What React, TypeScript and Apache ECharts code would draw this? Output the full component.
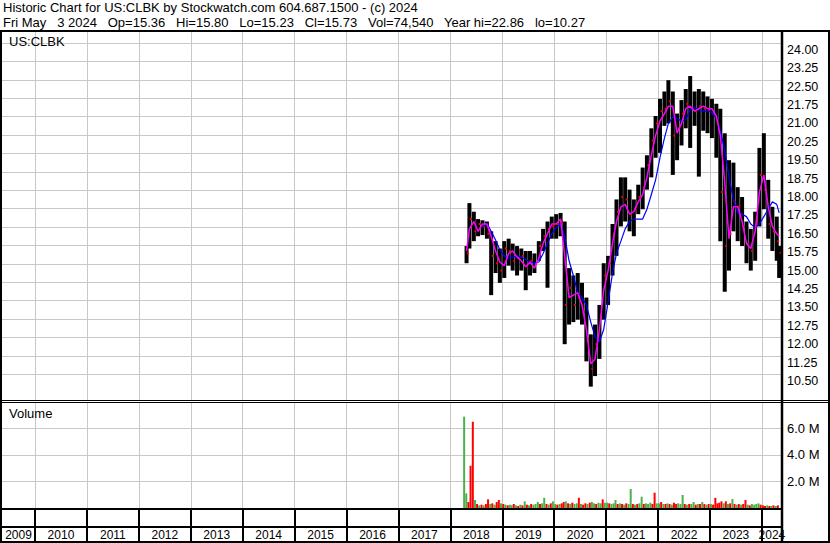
import React, { useEffect, useRef } from 'react';
import * as echarts from 'echarts';

// ---------- texts ----------
const headerLine1 = 'Historic Chart for US:CLBK by Stockwatch.com 604.687.1500 - (c) 2024';
const headerFields = ['Fri May', '3 2024', 'Op=15.36', 'Hi=15.80', 'Lo=15.23', 'Cl=15.73', 'Vol=74,540', 'Year hi=22.86', 'lo=10.27'];
const symbolLabel = 'US:CLBK';
const volumeLabel = 'Volume';

// ---------- axes ----------
const axisStart = '2009-05-14';
const axisEnd = '2024-05-22';
const yearTicks = [2010, 2011, 2012, 2013, 2014, 2015, 2016, 2017, 2018, 2019, 2020, 2021, 2022, 2023, 2024];
const priceTicks = [10.5, 11.25, 12, 12.75, 13.5, 14.25, 15, 15.75, 16.5, 17.25, 18, 18.75, 19.5, 20.25, 21, 21.75, 22.5, 23.25, 24];
const volumeTicks = [2, 4, 6]; // millions

// ---------- monthly price bars ----------
const barDates = [
  '2018-04-25', '2018-05-15', '2018-06-15', '2018-07-15', '2018-08-15', '2018-09-15', '2018-10-15', '2018-11-15', '2018-12-15',
  '2019-01-15', '2019-02-15', '2019-03-15', '2019-04-15', '2019-05-15', '2019-06-15', '2019-07-15', '2019-08-15', '2019-09-15', '2019-10-15', '2019-11-15', '2019-12-15',
  '2020-01-15', '2020-02-15', '2020-03-15', '2020-04-15', '2020-05-15', '2020-06-15', '2020-07-15', '2020-08-15', '2020-09-15', '2020-10-15', '2020-11-15', '2020-12-15',
  '2021-01-15', '2021-02-15', '2021-03-15', '2021-04-15', '2021-05-15', '2021-06-15', '2021-07-15', '2021-08-15', '2021-09-15', '2021-10-15', '2021-11-15', '2021-12-15',
  '2022-01-15', '2022-02-15', '2022-03-15', '2022-04-15', '2022-05-15', '2022-06-15', '2022-07-15', '2022-08-15', '2022-09-15', '2022-10-15', '2022-11-15', '2022-12-15',
  '2023-01-15', '2023-02-15', '2023-03-15', '2023-04-15', '2023-05-15', '2023-06-15', '2023-07-15', '2023-08-15', '2023-09-15', '2023-10-15', '2023-11-15', '2023-12-15',
  '2024-01-15', '2024-02-15', '2024-03-15', '2024-04-15', '2024-05-02',
];
const barHigh = [
  16.0, 17.75, 17.4, 17.1, 17.05, 17.0, 16.6, 16.2, 15.9,
  16.2, 16.3, 16.1, 16.0, 15.9, 15.8, 15.8, 15.7, 16.2, 16.7, 17.0, 17.2,
  17.3, 17.35, 17.0, 15.1, 14.8, 14.9, 14.5, 13.9, 12.4, 12.8, 13.6, 15.3,
  15.6, 16.9, 17.9, 18.8, 18.8, 18.3, 17.9, 18.5, 19.2, 19.7, 20.8, 21.3,
  22.0, 22.3, 22.76, 22.3, 21.4, 21.95, 22.4, 22.93, 22.3, 22.4, 22.3, 22.1,
  22.0, 21.8, 21.6, 20.6, 19.5, 19.4, 18.4, 18.0, 17.0, 16.7, 17.4, 20.0,
  20.6, 18.7, 17.6, 17.2, 16.0,
];
const barLow = [
  15.3, 15.9, 16.2, 16.4, 16.45, 16.3, 14.0, 14.9, 14.5,
  14.7, 15.2, 15.0, 14.8, 15.0, 14.2, 14.8, 14.9, 15.4, 15.8, 14.3, 16.3,
  16.3, 16.4, 12.0, 12.8, 12.9, 13.0, 12.8, 11.3, 10.27, 10.7, 11.4, 13.0,
  13.6, 14.8, 15.6, 16.8, 17.0, 16.6, 16.4, 17.3, 17.5, 18.3, 18.8, 19.6,
  19.8, 20.9, 21.0, 18.9, 19.5, 20.1, 20.8, 20.0, 20.9, 18.83, 20.7, 20.6,
  20.4, 19.6, 16.2, 14.14, 15.0, 16.6, 16.2, 16.0, 15.3, 15.0, 15.4, 16.8,
  17.5, 16.3, 15.8, 15.4, 14.7,
];
const barClose = [
  15.7, 17.1, 16.6, 16.9, 16.8, 16.5, 15.6, 15.3, 15.0,
  15.9, 15.8, 15.4, 15.5, 15.6, 15.2, 15.4, 15.3, 16.0, 16.4, 16.7, 16.8,
  16.9, 17.0, 13.6, 14.3, 13.6, 13.9, 13.3, 12.2, 11.0, 12.0, 13.2, 14.8,
  15.3, 16.5, 17.4, 18.0, 17.9, 17.3, 17.5, 18.0, 18.4, 19.3, 20.3, 21.0,
  21.5, 21.6, 21.9, 20.5, 20.8, 21.4, 21.8, 21.6, 21.5, 21.7, 21.6, 21.5,
  21.4, 21.0, 18.2, 16.0, 16.5, 17.8, 17.6, 16.8, 16.1, 15.8, 16.9, 18.9,
  18.3, 16.9, 16.6, 16.2, 15.73,
];
// magenta short moving average
const maShort = [
  15.8, 16.7, 17.0, 16.6, 16.9, 16.9, 16.4, 15.8, 15.35,
  15.2, 15.7, 15.8, 15.55, 15.4, 15.15, 15.35, 15.1, 15.5, 16.1, 16.5, 16.9,
  16.9, 17.1, 15.6, 13.9, 14.0, 14.1, 13.6, 12.6, 11.2, 11.4, 12.6, 14.2,
  15.0, 16.1, 17.0, 17.6, 17.7, 17.3, 17.4, 17.8, 18.1, 18.8, 19.7, 20.5,
  21.1, 21.4, 21.7, 21.7, 20.6, 21.0, 21.6, 21.7, 21.5, 21.6, 21.7, 21.6,
  21.6, 21.3, 20.5, 18.6, 16.3, 17.6, 17.6, 17.0, 16.1, 15.9, 16.6, 18.2,
  18.9, 17.6, 16.8, 16.5, 16.4,
];
// blue long moving average
const maLong: (number | null)[] = [
  null, null, null, null, 16.8, 16.93, 16.6, 16.25, 15.85,
  15.6, 15.5, 15.55, 15.6, 15.55, 15.45, 15.35, 15.3, 15.35, 15.7, 16.1, 16.5,
  16.75, 16.9, 16.4, 15.4, 14.8, 14.1, 13.9, 13.6, 12.9, 12.3, 12.1, 12.6,
  13.7, 14.9, 15.7, 16.2, 16.7, 17.0, 17.1, 17.1, 17.1, 17.5, 18.1, 18.7,
  19.6, 20.4, 21.0, 21.25, 21.2, 21.1, 21.15, 21.55, 21.65, 21.55, 21.5, 21.5,
  21.45, 21.2, 20.7, 19.9, 18.8, 17.9, 17.35, 17.3, 17.2, 16.9, 16.75, 16.9,
  17.2, 17.5, 17.8, 17.7, 17.35,
];

// ---------- half-monthly volume (millions), first bin = first half of April 2018 ----------
const volFirstYear = 2018;
const volFirstMonth = 4;
const volumes = [
  6.87, 1.1, 0.45, 3.18, 6.49, 0.6, 0.3, 0.2, 0.25, 0.2, 0.3, 0.65, 0.3, 0.35, 0.25, 0.45, 0.6, 0.35,
  0.3, 0.25, 0.2, 0.25, 0.2, 0.3, 0.2, 0.15, 0.25, 0.2, 0.5, 0.25, 0.2, 0.3, 0.25, 0.3, 0.45, 0.3, 0.35, 0.77, 0.3, 0.25, 0.35, 0.5,
  0.3, 0.25, 0.3, 0.35, 0.45, 0.5, 0.35, 0.3, 0.4, 0.3, 0.35, 0.77, 0.3, 0.25, 0.35, 0.3, 0.4, 0.45, 0.35, 0.3, 0.4, 0.35, 0.65, 0.4,
  0.4, 0.35, 0.3, 0.35, 0.6, 0.3, 0.35, 0.3, 0.25, 0.35, 0.3, 1.43, 0.3, 0.25, 0.3, 0.35, 0.85, 0.3, 0.35, 0.3, 0.4, 0.3, 1.15, 0.35,
  0.35, 0.45, 0.3, 0.3, 0.35, 0.3, 0.25, 0.4, 0.3, 0.35, 0.3, 0.98, 0.3, 0.25, 0.3, 0.3, 0.45, 0.25, 0.3, 0.3, 0.45, 0.3, 0.25, 0.3,
  0.3, 0.25, 0.77, 0.35, 0.4, 0.5, 0.35, 0.5, 0.3, 0.35, 0.68, 0.3, 0.25, 0.3, 0.25, 0.3, 0.6, 0.25, 0.2, 0.3, 0.25, 0.3, 0.35, 0.25,
  0.2, 0.15, 0.2, 0.15, 0.15, 0.2, 0.15, 0.2,
];
const volumeUp = [
  1, 1, 0, 0, 0, 1, 0, 1, 0, 1, 0, 0, 1, 0, 1, 0, 0, 1,
  0, 1, 0, 1, 1, 0, 1, 0, 1, 0, 1, 0, 1, 0, 1, 1, 1, 0, 1, 1, 0, 1, 0, 1,
  1, 0, 1, 0, 0, 1, 0, 1, 0, 1, 1, 0, 1, 0, 0, 1, 0, 1, 1, 0, 1, 1, 0, 1,
  1, 0, 1, 1, 1, 0, 1, 0, 1, 0, 1, 1, 0, 1, 0, 1, 1, 0, 1, 1, 1, 0, 0, 1,
  1, 0, 1, 0, 1, 0, 1, 0, 0, 1, 1, 1, 0, 1, 0, 1, 1, 0, 1, 0, 1, 0, 1, 0,
  1, 0, 0, 0, 0, 0, 1, 0, 1, 0, 1, 0, 1, 0, 1, 0, 0, 1, 0, 1, 1, 1, 1, 0,
  0, 0, 1, 0, 1, 0, 1, 0,
];

// ---------- helpers ----------
const FONT = 'Liberation Sans, Arial, sans-serif';
const FIELD_GAP = ' \u00a0 ';

function toYear(d: string): number {
  const [y, m, day] = d.split('-').map(Number);
  const s = Date.UTC(y, 0, 1);
  const e = Date.UTC(y + 1, 0, 1);
  return y + (Date.UTC(y, m - 1, day) - s) / (e - s);
}

function volDate(k: number): string {
  const mi = volFirstMonth - 1 + Math.floor(k / 2);
  const y = volFirstYear + Math.floor(mi / 12);
  const m = (mi % 12) + 1;
  const d = k % 2 === 0 ? 8 : 23;
  return `${y}-${String(m).padStart(2, '0')}-${String(d).padStart(2, '0')}`;
}

function buildOption() {
  const xMin = toYear(axisStart);
  const xMax = toYear(axisEnd);
  const barT = barDates.map(toYear);
  const priceData = barT.map((t, i) => [t, barLow[i], barHigh[i], barClose[i]]);
  const shortData = barT.map((t, i) => [t, maShort[i]]);
  const longData = barT.map((t, i) => [t, maLong[i]]).filter((p) => p[1] != null);
  const volData = volumes.map((v, k) => [toYear(volDate(k)), v, volumeUp[k]]);

  const gridOffset = 0.273; // price gridlines sit slightly above their labels
  const priceGrid = priceTicks.map((v) => v + gridOffset);
  const yearLabelPos = [
    (xMin + yearTicks[0]) / 2,
    ...yearTicks.slice(0, -1).map((y) => y + 0.5),
    (yearTicks[yearTicks.length - 1] + xMax) / 2,
  ];

  const grayX = {
    type: 'value',
    min: xMin,
    max: xMax,
    axisLine: { show: false },
    axisTick: { show: false, customValues: yearTicks },
    axisLabel: { show: false },
    splitLine: { show: true, lineStyle: { color: '#c8c8c8', width: 1 } },
  };

  const black = '#000';
  const line = (x1: number, y1: number, x2: number, y2: number, w: number) => ({
    type: 'line',
    z: 100,
    silent: true,
    shape: { x1, y1, x2, y2 },
    style: { stroke: black, lineWidth: w },
  });
  const text = (x: number, y: number, s: string, size: number) => ({
    type: 'text',
    z: 100,
    x,
    y,
    style: { text: s, fontSize: size, fontFamily: FONT, fill: black, verticalAlign: 'middle', align: 'left' },
  });

  return {
    animation: false,
    backgroundColor: '#ffffff',
    grid: [
      { left: 2, top: 32, width: 780, height: 368, outerBoundsMode: 'none', containLabel: false },
      { left: 2, top: 403, width: 780, height: 105, outerBoundsMode: 'none', containLabel: false },
      { left: 2, top: 510, width: 780, height: 16, outerBoundsMode: 'none', containLabel: false },
    ],
    xAxis: [
      { ...grayX, gridIndex: 0 },
      { ...grayX, gridIndex: 1 },
      {
        gridIndex: 2,
        type: 'value',
        min: xMin,
        max: xMax,
        position: 'bottom',
        axisLine: { show: false },
        axisTick: { show: true, customValues: yearTicks, length: 15, inside: false, lineStyle: { color: black, width: 2 } },
        axisLabel: {
          show: true,
          customValues: yearLabelPos,
          formatter: (v: number) => String(Math.floor(v)),
          fontSize: 12,
          fontFamily: FONT,
          color: black,
          margin: 9,
          verticalAlign: 'middle',
        },
        splitLine: { show: true, lineStyle: { color: black, width: 2 } },
      },
    ],
    yAxis: [
      {
        gridIndex: 0,
        type: 'value',
        position: 'right',
        min: 9.725,
        max: 24.725,
        axisLine: { show: false },
        axisTick: { show: false, customValues: priceGrid },
        splitLine: { show: true, lineStyle: { color: '#c8c8c8', width: 1 } },
        axisLabel: {
          customValues: priceTicks,
          formatter: (v: number) => v.toFixed(2),
          fontSize: 12.5,
          fontFamily: FONT,
          color: black,
          margin: 5,
          align: 'left',
        },
      },
      {
        gridIndex: 1,
        type: 'value',
        position: 'right',
        min: 0,
        max: 7.9,
        axisLine: { show: false },
        axisTick: { show: false, customValues: volumeTicks },
        splitLine: { show: true, lineStyle: { color: '#c8c8c8', width: 1 } },
        axisLabel: {
          customValues: volumeTicks,
          formatter: (v: number) => v.toFixed(1) + ' M',
          fontSize: 13,
          fontFamily: FONT,
          color: black,
          margin: 5,
          align: 'left',
        },
      },
      { gridIndex: 2, type: 'value', show: false, min: 0, max: 1 },
    ],
    series: [
      {
        type: 'custom',
        xAxisIndex: 0,
        yAxisIndex: 0,
        z: 2,
        encode: { x: 0, y: [1, 2] },
        data: priceData,
        renderItem: (_p: any, api: any) => {
          const t = api.value(0);
          const pHi = api.coord([t, api.value(2)]);
          const pLo = api.coord([t, api.value(1)]);
          const pCl = api.coord([t, api.value(3)]);
          return {
            type: 'group',
            children: [
              { type: 'rect', shape: { x: pHi[0] - 2, y: pHi[1], width: 4, height: Math.max(1, pLo[1] - pHi[1]) }, style: { fill: '#000' } },
              { type: 'rect', shape: { x: pCl[0] + 0.5, y: pCl[1] - 1, width: 2, height: 2 }, style: { fill: '#ff0000' } },
            ],
          };
        },
      },
      {
        type: 'line',
        xAxisIndex: 0,
        yAxisIndex: 0,
        z: 4,
        data: longData,
        showSymbol: false,
        symbol: 'none',
        lineStyle: { color: '#0000ff', width: 1.2 },
      },
      {
        type: 'line',
        xAxisIndex: 0,
        yAxisIndex: 0,
        z: 5,
        data: shortData,
        showSymbol: false,
        symbol: 'none',
        lineStyle: { color: '#ff00ff', width: 1.5 },
      },
      {
        type: 'custom',
        xAxisIndex: 1,
        yAxisIndex: 1,
        encode: { x: 0, y: 1 },
        data: volData,
        renderItem: (_p: any, api: any) => {
          const t = api.value(0);
          const top = api.coord([t, api.value(1)]);
          const base = api.coord([t, 0]);
          return {
            type: 'rect',
            shape: { x: top[0] - 1, y: top[1], width: 2, height: base[1] - top[1] },
            style: { fill: api.value(2) ? '#4cb04c' : '#ff0000' },
          };
        },
      },
    ],
    graphic: [
      text(3, 7.5, headerLine1, 13),
      text(3, 22.5, headerFields.join(FIELD_GAP), 13),
      text(9, 41.5, symbolLabel, 13),
      text(9, 413, volumeLabel, 13),
      line(0, 31, 830, 31, 2),
      line(0, 400.5, 830, 400.5, 1),
      line(0, 402.5, 830, 402.5, 1),
      line(0, 509, 782, 509, 2),
      line(0, 527, 782, 527, 2),
      line(0, 542, 830, 542, 2),
      line(1, 30, 1, 543, 2),
      line(782, 30, 782, 543, 2.5),
      line(829, 30, 829, 543, 2),
    ],
  };
}

export default function App() {
  const ref = useRef<HTMLDivElement>(null);
  useEffect(() => {
    if (!ref.current) return;
    const chart = echarts.init(ref.current, null, { renderer: 'svg' });
    chart.setOption(buildOption() as any);
    return () => chart.dispose();
  }, []);
  return (
    <div
      ref={ref}
      style={{ position: 'absolute', left: 0, top: 0, width: 830, height: 543, background: '#ffffff' }}
    />
  );
}
